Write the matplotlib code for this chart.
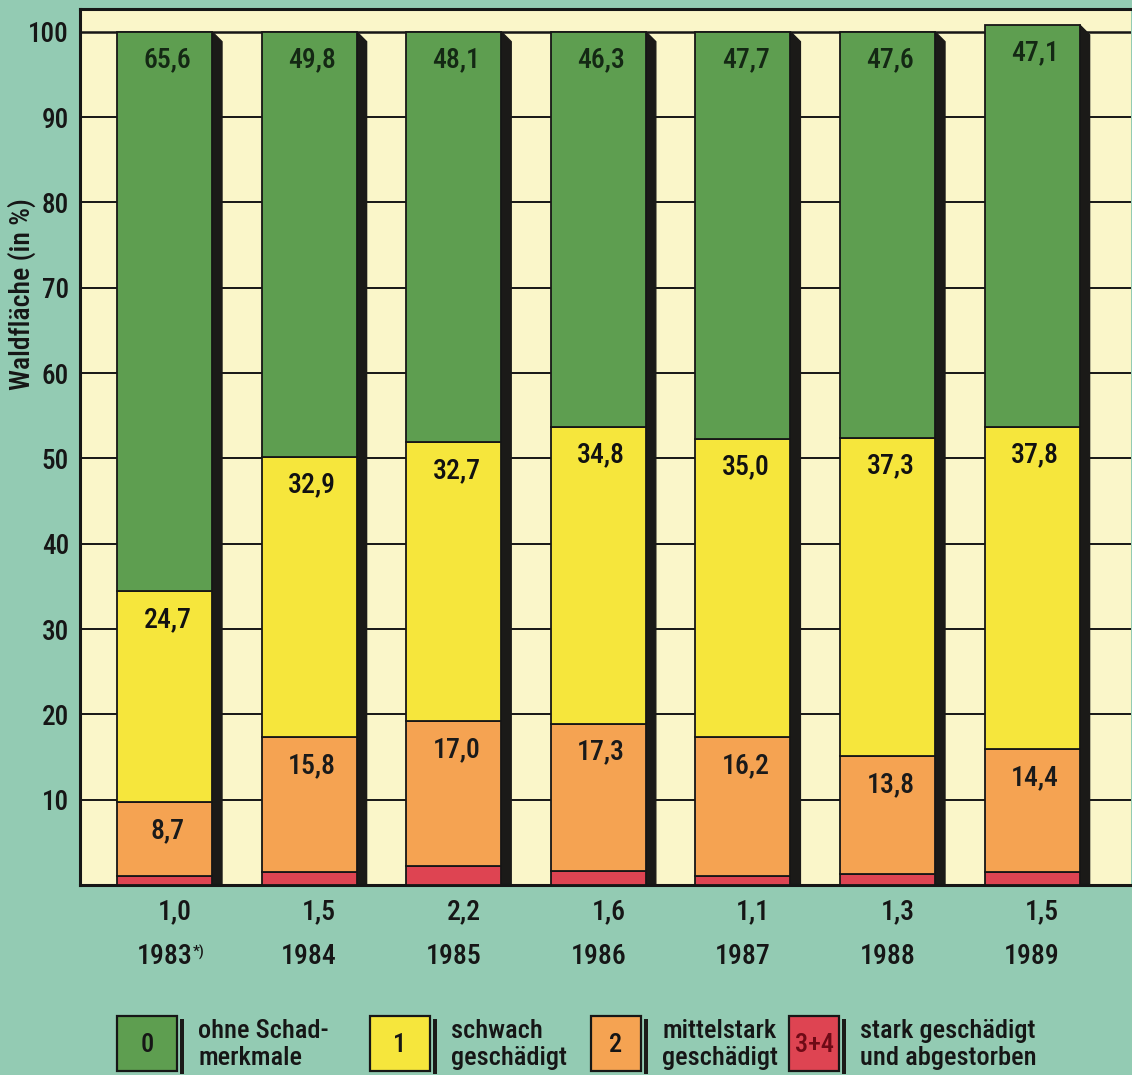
import matplotlib
matplotlib.use("Agg")
import matplotlib.pyplot as plt
from matplotlib import font_manager as fm
from matplotlib.patches import Rectangle, Polygon

# Waldschadenserhebung: Anteil der Waldfläche je Schadstufe (in %)
years = ["1983", "1984", "1985", "1986", "1987", "1988", "1989"]
stufe_34 = [1.0, 1.5, 2.2, 1.6, 1.1, 1.3, 1.5]          # stark geschädigt und abgestorben
stufe_2 = [8.7, 15.8, 17.0, 17.3, 16.2, 13.8, 14.4]      # mittelstark geschädigt
stufe_1 = [24.7, 32.9, 32.7, 34.8, 35.0, 37.3, 37.8]     # schwach geschädigt
stufe_0 = [65.6, 49.8, 48.1, 46.3, 47.7, 47.6, 47.1]     # ohne Schadmerkmale
yticks = [10, 20, 30, 40, 50, 60, 70, 80, 90, 100]
legend_codes = ["0", "1", "2", "3+4"]
legend_texts = ["ohne Schad-\nmerkmale", "schwach\ngeschädigt",
                "mittelstark\ngeschädigt", "stark geschädigt\nund abgestorben"]


def pick_narrow_font():
    """Return FontProperties for a condensed sans face, preferring medium weight."""
    prefs = ["Liberation Sans Narrow", "Roboto Condensed", "Open Sans Condensed",
             "Noto Sans Condensed", "DejaVu Sans Condensed"]
    narrow = []
    for f in fm.fontManager.ttflist:
        if f.style != "normal":
            continue
        fname_l = f.fname.lower().replace("-", "").replace("_", "")
        if "semicondensed" in fname_l or "extracondensed" in fname_l:
            continue
        if ("narrow" in f.name.lower() or "condensed" in f.name.lower()
                or f.stretch in ("condensed",)
                or "narrow" in fname_l or "condensed" in fname_l):
            narrow.append(f)

    def weight_of(f):
        return f.weight if isinstance(f.weight, int) else 400

    for wanted in (500, 400):
        for p in prefs:
            key = p.replace(" ", "").lower()
            for f in narrow:
                if weight_of(f) != wanted:
                    continue
                if f.name == p or key in f.fname.lower().replace("-", "").replace("_", ""):
                    return fm.FontProperties(fname=f.fname), True
    for f in narrow:
        if weight_of(f) in (400, 500):
            return fm.FontProperties(fname=f.fname), True
    return fm.FontProperties(family="Liberation Sans"), False


FP, IS_NARROW = pick_narrow_font()
SCALE = 1.0 if IS_NARROW else 0.86


def font(size):
    p = FP.copy()
    p.set_size(size * SCALE)
    return p


BG = "#93cbb3"
PANEL = "#faf6c9"
GREEN = "#5e9e50"
YELLOW = "#f6e63c"
ORANGE = "#f5a352"
RED = "#de4452"
SHADOW = "#1b1a18"
INK = "#161616"

W, H = 1132, 1075
fig = plt.figure(figsize=(W / 100, H / 100), dpi=100, facecolor=BG)

# plot panel in pixel geometry
px_left, px_right, px_top, px_zero = 80, 1131, 9, 885
px_per_unit = (800 - 32) / 90.0
spacing_px = 144.6
first_center_px = 164.5

ax = fig.add_axes([px_left / W, (H - px_zero) / H,
                   (px_right - px_left) / W, (px_zero - px_top) / H])
ax.set_facecolor(PANEL)
ax.set_ylim(0, (px_zero - px_top) / px_per_unit)
ax.set_xlim((px_left - first_center_px) / spacing_px,
            (px_right - first_center_px) / spacing_px)

for t in yticks:
    ax.axhline(t, color=INK, lw=1.4 if t < 100 else 1.8, zorder=1)

for side in ["left", "bottom", "top"]:
    ax.spines[side].set_color(INK)
    ax.spines[side].set_linewidth(2.2)
ax.spines["right"].set_visible(False)

ax.set_xticks([])
ax.set_yticks(yticks)
ax.set_yticklabels([str(t) for t in yticks], fontproperties=font(19.5), color=INK)
ax.tick_params(axis="y", length=0, pad=8)

x = list(range(len(years)))
bar_w = 95 / spacing_px
sh_w = 10 / spacing_px
sh_dy = 10 / px_per_unit

segments = [(stufe_34, RED), (stufe_2, ORANGE), (stufe_1, YELLOW), (stufe_0, GREEN)]
bottoms = [0.0] * len(years)
tops_by_seg = []
for vals, col in segments:
    ax.bar(x, vals, bottom=bottoms, width=bar_w, color=col,
           edgecolor=INK, linewidth=1.3, zorder=3)
    bottoms = [b + v for b, v in zip(bottoms, vals)]
    tops_by_seg.append(list(bottoms))

# dark drop shadow on the right side of every bar
for xi, top in zip(x, bottoms):
    xr = xi + bar_w / 2
    ax.add_patch(Polygon([(xr, top), (xr + sh_w, top - sh_dy),
                          (xr + sh_w, 0), (xr, 0)],
                         closed=True, color=SHADOW, zorder=2.5))


def fmt(v):
    return f"{v:.1f}".replace(".", ",")


# value labels inside segments (Stufe 2, 1, 0)
label_cols = ["#1a1a1a", "#111111", "#142814"]
for (vals, _), tops, lc in zip(segments[1:], tops_by_seg[1:], label_cols):
    for xi, v, tp in zip(x, vals, tops):
        ax.text(xi + 0.02, tp - 3.3, fmt(v), ha="center", va="center",
                fontproperties=font(20), color=lc, zorder=5)

# Stufe 3+4 values and years below the panel
for xi, v, yr in zip(x, stufe_34, years):
    ax.text(xi + 0.07, -27 / px_per_unit, fmt(v), ha="center", va="center",
            fontproperties=font(20), color=INK, clip_on=False)
    t = ax.text(xi, -71 / px_per_unit, yr, ha="center", va="center",
                fontproperties=font(20), color=INK, clip_on=False)
    if yr == "1983":
        ax.annotate("*)", xy=(1.0, 0.92), xycoords=t, xytext=(0.5, 0),
                    textcoords="offset points", ha="left", va="top",
                    fontproperties=font(11), color=INK, annotation_clip=False)

fig.text(22 / W, 1 - 294 / H, "Waldfläche (in %)", rotation=90,
         ha="center", va="center", fontproperties=font(20), color=INK)

# legend row
lax = fig.add_axes([0, 0, 1, 1], facecolor="none")
lax.set_xlim(0, W)
lax.set_ylim(H, 0)
lax.axis("off")

leg_x = [117, 370, 591, 789]
leg_w = [60, 60, 50, 50]
leg_colors = [GREEN, YELLOW, ORANGE, RED]
code_colors = [INK, INK, INK, "#6e0a16"]
box_top, box_h = 1016, 55
for lx, lw, lc, code, cc, txt in zip(leg_x, leg_w, leg_colors, legend_codes,
                                      code_colors, legend_texts):
    lax.add_patch(Rectangle((lx, box_top), lw, box_h, facecolor=lc,
                            edgecolor=INK, linewidth=1.6))
    lax.add_patch(Rectangle((lx + lw + 3, box_top + 3), 4, box_h,
                            facecolor=SHADOW, edgecolor="none"))
    lax.text(lx + lw / 2, box_top + box_h / 2 + 1, code, ha="center",
             va="center", fontproperties=font(19), color=cc)
    lax.text(lx + lw + 21, box_top + box_h / 2 + 1, txt, ha="left",
             va="center", fontproperties=font(19), color=INK, linespacing=1.15)

fig.savefig("out.png", dpi=100, facecolor=BG)
